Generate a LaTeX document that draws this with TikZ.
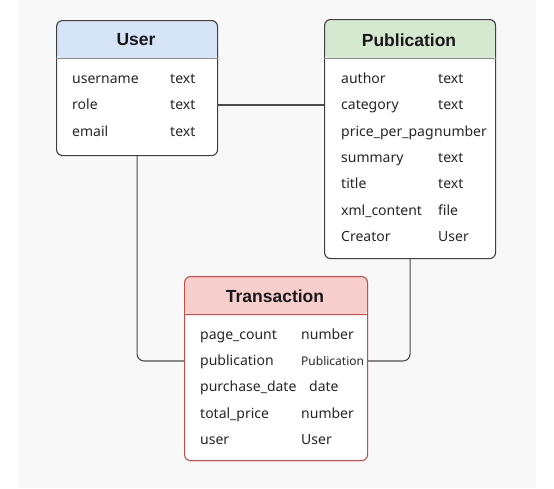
\documentclass[tikz,border=0pt]{standalone}
\usepackage{fontspec}
\setmainfont{Noto Sans}
\newfontfamily\ttlfont{Liberation Sans}
\definecolor{userhdr}{RGB}{214,228,248}
\definecolor{pubhdr}{RGB}{213,232,208}
\definecolor{transhdr}{RGB}{246,206,204}
\definecolor{transbrd}{RGB}{184,84,80}
\definecolor{bgc}{RGB}{248,248,248}
\begin{document}
\begin{tikzpicture}[x=1pt,y=-1pt,
  box/.style={draw=#1, line width=1.1pt, rounded corners=6pt, fill=white, anchor=north west, inner sep=0pt},
  title/.style={font=\ttlfont\fontsize{17.5}{19}\selectfont\bfseries, text=black!90, inner sep=0pt},
  field/.style={font=\fontsize{14}{16}\selectfont, text=black!85, anchor=west, inner sep=0pt, text height=11pt, text depth=2pt},
  link/.style={draw=black!70, line width=1.1pt, rounded corners=7pt}
]
\useasboundingbox (0,0) rectangle (554,488);
\fill[white] (0,0) rectangle (554,488);
\fill[bgc] (18,0) rectangle (536,488);

% User
\node[box=black!75, minimum width=161pt, minimum height=135pt,
  path picture={\fill[userhdr] (path picture bounding box.north west) rectangle ([yshift=-38pt]path picture bounding box.north east);}] (user) at (56,20) {};
\draw[black!45, line width=1pt] ([yshift=-38pt]user.north west) -- ([yshift=-38pt]user.north east);
\node[title] (usert) at (136,40) {User};
\node[field] (u1) at (72,79) {username};
\node[field] (u1t) at (170,79) {text};
\node[field] (u2) at (72,105) {role};
\node[field] (u2t) at (170,105) {text};
\node[field] (u3) at (72,132) {email};
\node[field] (u3t) at (170,132) {text};

% Publication
\node[box=black!75, minimum width=171pt, minimum height=239pt,
  path picture={\fill[pubhdr] (path picture bounding box.north west) rectangle ([yshift=-39pt]path picture bounding box.north east);}] (pub) at (324,19) {};
\draw[black!45, line width=1pt] ([yshift=-39pt]pub.north west) -- ([yshift=-39pt]pub.north east);
\node[title] (pubt) at (409,40) {Publication};
\node[field] (p1) at (341,79) {author};
\node[field] (p1t) at (438,79) {text};
\node[field] (p2) at (341,105) {category};
\node[field] (p2t) at (438,105) {text};
\node[field] (p3) at (341,132) {price\_per\_pag};
\node[field] (p3t) at (434,132) {number};
\node[field] (p4) at (341,158) {summary};
\node[field] (p4t) at (438,158) {text};
\node[field] (p5) at (341,184) {title};
\node[field] (p5t) at (438,184) {text};
\node[field] (p6) at (341,211) {xml\_content};
\node[field] (p6t) at (438,211) {file};
\node[field] (p7) at (341,237) {Creator};
\node[field] (p7t) at (438,237) {User};

% Transaction
\node[box=transbrd, minimum width=183pt, minimum height=184pt,
  path picture={\fill[transhdr] (path picture bounding box.north west) rectangle ([yshift=-38pt]path picture bounding box.north east);}] (trans) at (184,276) {};
\draw[transbrd, line width=1pt] ([yshift=-38pt]trans.north west) -- ([yshift=-38pt]trans.north east);
\node[title] (transt) at (275,296) {Transaction};
\node[field] (t1) at (200,335) {page\_count};
\node[field] (t1t) at (301,335) {number};
\node[field] (t2) at (200,361) {publication};
\node[field, font=\fontsize{12}{15}\selectfont] (t2t) at (301,361) {Publication};
\node[field] (t3) at (200,387) {purchase\_date};
\node[field] (t3t) at (309,387) {date};
\node[field] (t4) at (200,414) {total\_price};
\node[field] (t4t) at (301,414) {number};
\node[field] (t5) at (200,440) {user};
\node[field] (t5t) at (301,440) {User};

% Connectors
\draw[link] (user.east |- u2) -- (pub.west |- u2);
\draw[link] (user.south) |- (trans.west |- t2);
\draw[link] (pub.south) |- (trans.east |- t2);
\end{tikzpicture}
\end{document}
